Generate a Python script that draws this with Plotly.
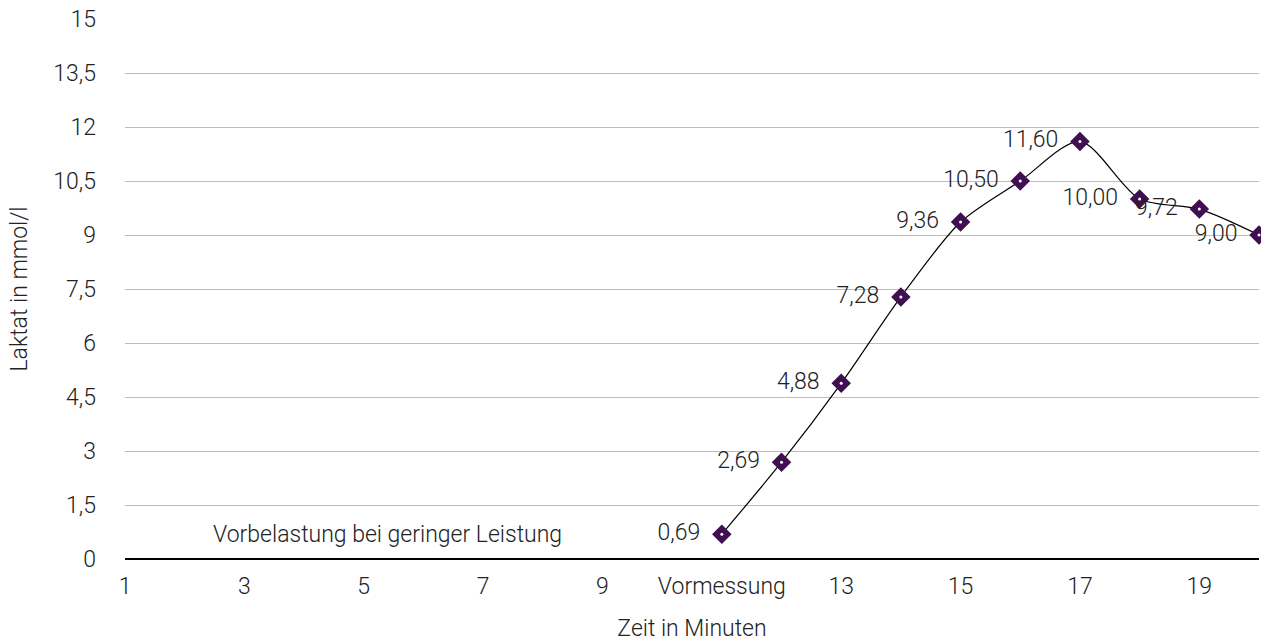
import plotly.graph_objects as go

# data
x_minutes = [11, 12, 13, 14, 15, 16, 17, 18, 19, 20]
laktat = [0.69, 2.69, 4.88, 7.28, 9.36, 10.50, 11.60, 10.00, 9.72, 9.00]
label_texts = ["0,69", "2,69", "4,88", "7,28", "9,36", "10,50", "11,60", "10,00", "9,72", "9,00"]
x_tickvals = [1, 3, 5, 7, 9, 11, 13, 15, 17, 19]
x_ticktext = ["1", "3", "5", "7", "9", "Vormessung", "13", "15", "17", "19"]
y_tickvals = [0, 1.5, 3, 4.5, 6, 7.5, 9, 10.5, 12, 13.5, 15]
y_ticktext = ["0", "1,5", "3", "4,5", "6", "7,5", "9", "10,5", "12", "13,5", "15"]
note_text = "Vorbelastung bei geringer Leistung"
note_x, note_y = 5.4, 0.69

FONT = "Roboto, Open Sans, Liberation Sans, Arial, sans-serif"
TXT = "#222222"
PURPLE = "#3f0f52"
FS = 23
W = 300

def f():
    return dict(family=FONT, size=FS, color=TXT, weight=W)

fig = go.Figure()
fig.add_trace(go.Scatter(
    x=x_minutes, y=laktat, mode="lines+markers+text",
    line=dict(color="black", width=1.2, shape="spline", smoothing=0.8),
    marker=dict(symbol="diamond", size=15, color=PURPLE),
    text=[t + "\u00a0\u00a0" for t in label_texts], textposition="middle left",
    textfont=f(),
    cliponaxis=False, hoverinfo="skip", showlegend=False,
))
fig.add_trace(go.Scatter(
    x=x_minutes, y=laktat, mode="markers",
    marker=dict(symbol="circle", size=3, color="white"),
    cliponaxis=False, hoverinfo="skip", showlegend=False,
))
fig.add_annotation(x=note_x, y=note_y, text=note_text, showarrow=False, font=f())

fig.update_layout(
    width=1261, height=642,
    margin=dict(l=125, r=2, t=19, b=83),
    paper_bgcolor="white", plot_bgcolor="white",
    font=f(),
    xaxis=dict(range=[1, 20], tickvals=x_tickvals, ticktext=x_ticktext,
               showgrid=False, zeroline=False, showline=False, ticks="",
               ticklabelstandoff=11, automargin=False,
               tickfont=f(),
               title=dict(text="Zeit in Minuten", font=f(), standoff=25)),
    yaxis=dict(range=[0, 15], tickvals=y_tickvals, ticktext=y_ticktext,
               showgrid=True, gridcolor="#bdbdbd", gridwidth=1,
               zeroline=True, zerolinecolor="black", zerolinewidth=2,
               showline=False, ticks="", ticklabelstandoff=28, automargin=False,
               tickfont=f(),
               title=dict(text="Laktat in mmol/l", font=f(), standoff=19)),
)
fig.write_html("out.html", config={"displayModeBar": False},
               post_script="document.body.style.margin='0';document.body.style.overflow='hidden';")
